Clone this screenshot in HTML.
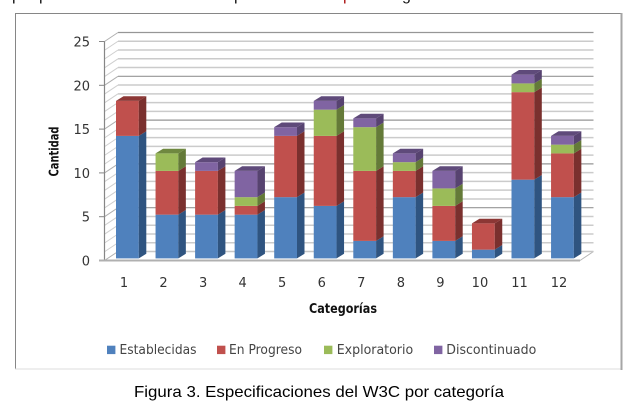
<!DOCTYPE html>
<html lang="es">
<head>
<meta charset="utf-8">
<title>Figura 3</title>
<style>
html,body{margin:0;padding:0;background:#fff;}
body{width:644px;height:411px;overflow:hidden;}
svg{display:block;}
text{font-family:"DejaVu Sans","Liberation Sans",sans-serif;}
.soft{filter:blur(0.3px);}
</style>
</head>
<body>
<svg id="chart" xmlns="http://www.w3.org/2000/svg" width="644" height="411" viewBox="0 0 644 411">
  <g font-size="16">
    <text x="12" y="0" fill="#111" style="font-family:'Liberation Sans',sans-serif">p</text>
    <text x="39" y="0" fill="#111" style="font-family:'Liberation Sans',sans-serif">p</text>
    <text x="234" y="0" fill="#111" style="font-family:'Liberation Sans',sans-serif">p</text>
    <text x="343" y="0" fill="#a11" style="font-family:'Liberation Sans',sans-serif">p</text>
    <text x="402" y="0" fill="#111" style="font-family:'Liberation Sans',sans-serif">g</text>
  </g>
  <g>
    <line x1="15.5" y1="13.5" x2="622" y2="13.5" stroke="#868686" stroke-width="1"/>
    <line x1="15.5" y1="13" x2="15.5" y2="369" stroke="#868686" stroke-width="1"/>
    <line x1="15" y1="369" x2="622" y2="369" stroke="#dcdcdc" stroke-width="1"/>
    <line x1="621.5" y1="13" x2="621.5" y2="370" stroke="#a6a6a6" stroke-width="2"/>
  </g>
  <g id="grid" class="soft"></g>
  <g id="bars" class="soft"></g>
  <g id="axes" class="soft"></g>
  <text class="soft" x="343" y="313" text-anchor="middle" font-size="13" font-weight="bold" fill="#111" textLength="68" lengthAdjust="spacingAndGlyphs" style="font-family:'DejaVu Sans',sans-serif">Categorías</text>
  <text class="soft" transform="translate(58.5,151.5) rotate(-90)" text-anchor="middle" font-size="13" font-weight="bold" fill="#111" textLength="50" lengthAdjust="spacingAndGlyphs" style="font-family:'DejaVu Sans',sans-serif">Cantidad</text>
  <g id="legend" class="soft"></g>
  <text x="134" y="397" font-size="16" fill="#000" textLength="370" lengthAdjust="spacingAndGlyphs" style="font-family:'Liberation Sans',sans-serif">Figura 3. Especificaciones del W3C por categoría</text>
</svg>
<script>
const categories = ['1','2','3','4','5','6','7','8','9','10','11','12'];
const establecidas = [14,5,5,5,7,6,2,7,2,1,9,7];
const enProgreso = [4,5,5,1,7,8,8,3,4,3,10,5];
const exploratorio = [0,2,0,1,0,3,5,1,2,0,1,1];
const discontinuado = [0,0,1,3,1,1,1,1,2,0,1,1];
const seriesNames = ['Establecidas','En Progreso','Exploratorio','Discontinuado'];
const yTicks = [0,5,10,15,20,25];
const yMax = 25;

const seriesValues = [establecidas, enProgreso, exploratorio, discontinuado];
const palette = [
  {front:'#4f81bd', side:'#2f5480', top:'#3a6391'},
  {front:'#c0504d', side:'#7a302e', top:'#8c3735'},
  {front:'#9bbb59', side:'#647a38', top:'#6f8840'},
  {front:'#8064a2', side:'#574370', top:'#5f4a7a'}
];
const NS = 'http://www.w3.org/2000/svg';
function mk(tag, attrs, parent) {
  const el = document.createElementNS(NS, tag);
  for (const k in attrs) el.setAttribute(k, attrs[k]);
  parent.appendChild(el);
  return el;
}
// axis functions
const unitPx = 8.76;
const axisFrontY0 = 260.5;
const barBaseY = 258.4;
const depthX = 13.5, depthY = 9;
const barDX = 7.5, barDY = 4.6;
const barW = 22.8, pitch = 39.55, firstBarX = 116;
const wallX = 104.5, plotRight = 580;
function axisY(v) { return axisFrontY0 - v * unitPx; }
function barY(v) { return barBaseY - v * 8.75; }
function barX(i) { return firstBarX + i * pitch; }

const grid = document.getElementById('grid');
for (let v = 0; v <= yMax; v++) {
  const y = axisY(v);
  const major = v % 5 === 0;
  const g = mk('g', {}, grid);
  
  
  if (v > 0) {
    mk('line', {x1: wallX + depthX, y1: y - depthY, x2: plotRight + depthX, y2: y - depthY,
      stroke: major ? '#969696' : '#cbcbcb', 'stroke-width': major ? 1.2 : 1.5}, g);
  }
  mk('line', {x1: wallX, y1: y, x2: wallX + depthX, y2: y - depthY,
    stroke: major ? '#b0b0b0' : '#cfcfcf', 'stroke-width': 1}, g);
}
const floorG = mk('g', {}, grid);


mk('line', {x1: plotRight, y1: axisY(0), x2: plotRight + depthX, y2: axisY(0) - depthY, stroke: '#b5b5b5', 'stroke-width': 1}, floorG);
mk('line', {x1: wallX + depthX, y1: axisY(0) - depthY, x2: plotRight + depthX, y2: axisY(0) - depthY, stroke: '#c6c6c6', 'stroke-width': 1.4}, floorG);

const barsG = document.getElementById('bars');
categories.forEach(function (cat, i) {
  const x = barX(i);
  const group = mk('g', {}, barsG);
  
  
  let acc = 0;
  let topSeries = 0;
  seriesValues.forEach(function (vals, s) {
    const v = vals[i];
    if (v <= 0) return;
    const y0 = barY(acc), y1 = barY(acc + v);
    const c = palette[s];
    const seg = mk('g', {}, group);
    
    
    mk('rect', {x: x, y: y1, width: barW, height: y0 - y1, fill: c.front}, seg);
    mk('polygon', {points: [x + barW, y0, x + barW + barDX, y0 - barDY, x + barW + barDX, y1 - barDY, x + barW, y1].join(' '), fill: c.side}, seg);
    acc += v;
    topSeries = s;
  });
  const yt = barY(acc);
  const capFill = palette[topSeries].top;
  const cap = mk('polygon', {points: [x, yt, x + barDX, yt - barDY, x + barW + barDX, yt - barDY, x + barW, yt].join(' '), fill: capFill}, group);
  
  
});

const axes = document.getElementById('axes');
const yLine = mk('line', {x1: wallX, y1: axisY(yMax), x2: wallX, y2: axisY(0), stroke: '#868686', 'stroke-width': 1.2}, axes);


const xLine = mk('line', {x1: 99, y1: axisY(0), x2: plotRight, y2: axisY(0), stroke: '#b0b0b0', 'stroke-width': 2}, axes);


yTicks.forEach(function (v) {
  const y = axisY(v);
  if (v > 0) {
    const t = mk('line', {x1: 99, y1: y, x2: wallX, y2: y, stroke: '#868686', 'stroke-width': 1}, axes);
    
    
  }
  const lab = mk('text', {x: 90, y: y + 5, 'text-anchor': 'end', 'font-size': 13, fill: '#333'}, axes);
  
  
  lab.textContent = String(v);
});
categories.forEach(function (cat, i) {
  const lab = mk('text', {x: barX(i) + 8, y: 287, 'text-anchor': 'middle', 'font-size': 13, fill: '#333'}, axes);
  
  
  lab.textContent = cat;
});

const legend = document.getElementById('legend');
const legendSwatchX = [107, 217, 324, 434];
const legendTextX = [119.5, 229, 336.7, 446.3];
const legendTextW = [77, 73, 76.5, 90];
seriesNames.forEach(function (name, s) {
  const g = mk('g', {}, legend);
  
  
  mk('rect', {x: legendSwatchX[s], y: 345.7, width: 8.4, height: 8.4, fill: palette[s].front}, g);
  const t = mk('text', {x: legendTextX[s], y: 354, 'font-size': 13, fill: '#444',
    textLength: legendTextW[s], lengthAdjust: 'spacingAndGlyphs'}, g);
  t.textContent = name;
});
</script>
</body>
</html>
